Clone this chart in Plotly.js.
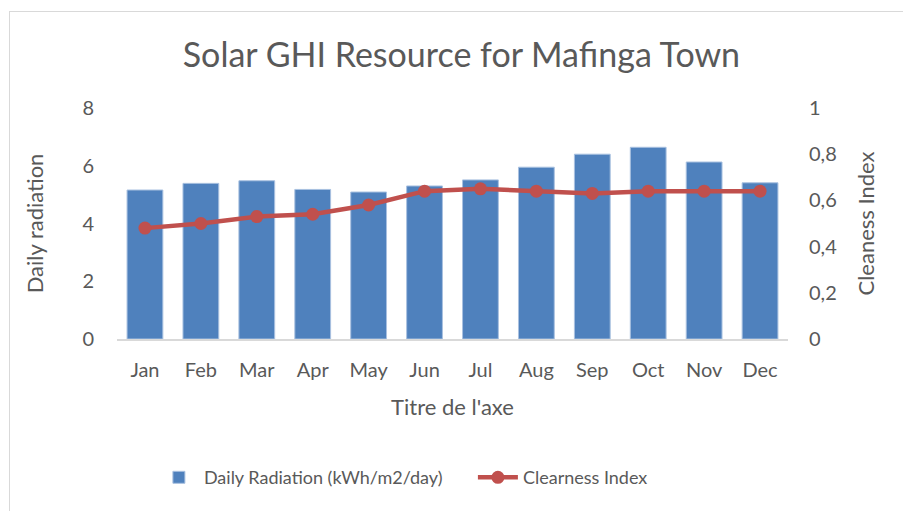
<!DOCTYPE html>
<html>
<head>
<meta charset="utf-8">
<script src="https://cdn.plot.ly/plotly-3.0.1.min.js"></script>
<style>
html,body{margin:0;padding:0;background:#fff;}
#wrap{position:relative;width:903px;height:511px;overflow:hidden;}
#chart{width:903px;height:511px;}
#frame{position:absolute;left:9px;top:11px;width:1000px;height:600px;border-left:1.5px solid #d9d9d9;border-top:1.5px solid #d9d9d9;pointer-events:none;}
</style>
</head>
<body>
<div id="wrap">
<div id="chart"></div>
<div id="frame"></div>
</div>
<script>
const months = ["Jan","Feb","Mar","Apr","May","Jun","Jul","Aug","Sep","Oct","Nov","Dec"];
const dailyRadiation = [5.16, 5.39, 5.48, 5.18, 5.09, 5.30, 5.51, 5.95, 6.40, 6.64, 6.13, 5.41];
const clearnessIndex = [0.48, 0.50, 0.53, 0.54, 0.58, 0.64, 0.65, 0.64, 0.63, 0.64, 0.64, 0.64];
const leftTicks = [0, 2, 4, 6, 8];
const rightTicks = [0, 0.2, 0.4, 0.6, 0.8, 1];

const FONT = "Lato, 'Open Sans', sans-serif";
const GREY = "#595959";

const traces = [
  {
    type: "bar",
    name: "Daily Radiation (kWh/m2/day)",
    x: months,
    y: dailyRadiation,
    marker: {color: "#4F81BD", line: {color: "#a9c1e0", width: 1}},
    yaxis: "y"
  },
  {
    type: "scatter",
    mode: "lines+markers",
    name: "Clearness Index",
    x: months,
    y: clearnessIndex,
    line: {color: "#C0504D", width: 4.5},
    marker: {color: "#C0504D", size: 13},
    yaxis: "y2"
  }
];

const layout = {
  width: 903,
  height: 511,
  separators: ", ",
  paper_bgcolor: "#fff",
  plot_bgcolor: "#fff",
  font: {family: FONT, color: GREY, size: 20},
  margin: {l: 117, r: 115, t: 108, b: 172},
  bargap: 0.36,
  showlegend: true,
  title: {
    text: "Solar GHI Resource for Mafinga Town",
    font: {family: FONT, size: 34, color: GREY},
    x: 0.511, xanchor: "center",
    y: 0.893, yanchor: "middle"
  },
  xaxis: {
    type: "category",
    range: [-0.5, months.length - 0.5],
    automargin: false,
    showgrid: false,
    showline: true,
    linecolor: "#d9d9d9",
    linewidth: 1.5,
    ticks: "",
    ticklabelstandoff: 12,
    tickfont: {size: 20, color: GREY},
    title: {text: "Titre de l'axe", font: {size: 22, color: GREY}, standoff: 20}
  },
  yaxis: {
    range: [0, 8],
    tickvals: leftTicks,
    automargin: false,
    showgrid: false,
    zeroline: false,
    showline: false,
    ticks: "",
    ticklabelstandoff: 22,
    tickfont: {size: 20, color: GREY},
    title: {text: "Daily radiation", font: {size: 22, color: GREY}, standoff: 32}
  },
  yaxis2: {
    range: [0, 1],
    tickvals: rightTicks,
    overlaying: "y",
    side: "right",
    automargin: false,
    showgrid: false,
    zeroline: false,
    showline: false,
    ticks: "",
    ticklabelstandoff: 20,
    tickfont: {size: 20, color: GREY},
    title: {text: "Cleaness Index", font: {size: 22, color: GREY}, standoff: 22}
  },
  legend: {
    orientation: "h",
    x: 0.055, xanchor: "left",
    y: -0.6, yanchor: "middle",
    font: {size: 18, color: GREY},
    itemwidth: 40,
    entrywidth: 264,
    traceorder: "normal"
  }
};

Plotly.newPlot("chart", traces, layout, {displayModeBar: false, staticPlot: true});
</script>
</body>
</html>
